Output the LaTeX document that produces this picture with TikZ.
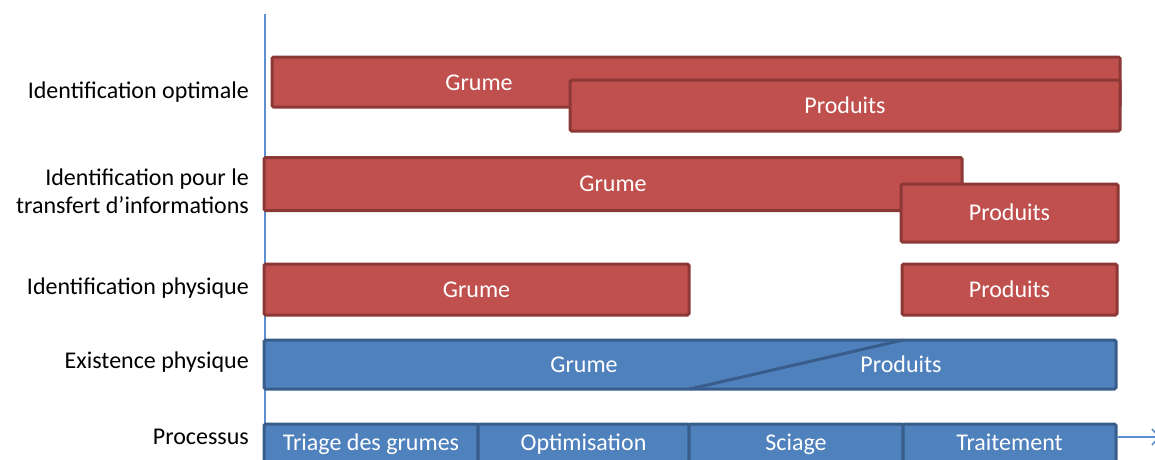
\documentclass[tikz,border=0pt]{standalone}
\usepackage{fontspec}
\setmainfont{Carlito}
\usepackage{xcolor}
\usepackage{tikz}
\usetikzlibrary{arrows.meta,positioning}
\definecolor{woodred}{HTML}{C0504D}
\definecolor{woodreddark}{HTML}{8C3836}
\definecolor{procblue}{HTML}{4F81BD}
\definecolor{procbluedark}{HTML}{385D8A}
\definecolor{axisblue}{HTML}{5B8FD0}

\begin{document}
\begin{tikzpicture}[x=1pt, y=-1pt,
  redbar/.style={draw=woodreddark, fill=woodred, line width=3pt, rounded corners=1.5pt,
                 inner sep=0pt, text=white, text height=15pt, text depth=0pt,
                 font=\fontsize{24}{28}\selectfont},
  bluebar/.style={redbar, draw=procbluedark, fill=procblue},
  bartxt/.style={text=white, inner sep=0pt, text height=15pt, text depth=0pt,
                 font=\fontsize{24}{28}\selectfont},
  rowlbl/.style={anchor=east, align=right, inner sep=0pt, font=\fontsize{24}{28}\selectfont},
  arr/.style={-{Straight Barb[length=7pt, width=16pt]}, line width=1.6pt, color=axisblue}
]
\useasboundingbox (0,0) rectangle (1155,459);
\clip (0,0) rectangle (1155,459);

% time axis
\coordinate (axtop) at (265,14);
\coordinate (axbot) at (265,470);
\draw[line width=2pt, color=axisblue] (axtop) -- (axbot);

% identification optimale
\node[rowlbl, text height=15pt, text depth=0pt] (lbl-opt) at (249,91) {Identification optimale};
\node[redbar, minimum width=848pt, minimum height=50pt] (opt-grume) at (696,82) {};
\node[bartxt] (opt-grume-txt) at (479,83) {Grume};
\node[redbar, minimum width=550pt, minimum height=51pt] (opt-prod) at (845,105.5) {Produits};

% identification pour le transfert
\node[rowlbl] (lbl-transf) at (249,191) {Identification pour le\\transfert d'informations};
\node[redbar, minimum width=698pt, minimum height=53pt] (transf-grume) at (613,184) {Grume};
\node[redbar, minimum width=217pt, minimum height=58pt] (transf-prod) at (1009.5,213) {Produits};

% identification physique
\node[rowlbl, text height=15pt, text depth=0pt] (lbl-phys) at (249,287) {Identification physique};
\node[redbar, minimum width=425pt, minimum height=51pt] (phys-grume) at (476.5,289.5) {Grume};
\node[redbar, minimum width=215pt, minimum height=51pt] (phys-prod) at (1009.5,289.5) {Produits};

% existence physique
\node[rowlbl, text height=15pt, text depth=0pt] (lbl-exist) at (249,361) {Existence physique};
\node[bluebar, minimum width=852pt, minimum height=49pt] (exist) at (690,364.5) {};
\coordinate (cut-lo) at (690,389);
\coordinate (cut-hi) at (903,340);
\draw[line width=3pt, color=procbluedark] (cut-lo) -- (cut-hi);
\node[bartxt] (exist-grume) at (584,365) {Grume};
\node[bartxt] (exist-prod) at (901,365) {Produits};

% processus
\node[rowlbl, text height=15pt, text depth=0pt] (lbl-proc) at (249,437) {Processus};
\node[bluebar, minimum width=214pt, minimum height=38pt] (triage) at (371,443) {Triage des grumes};
\node[bluebar, minimum width=211pt, minimum height=38pt] (optim) at (583.5,443) {Optimisation};
\node[bluebar, minimum width=214pt, minimum height=38pt] (sciage) at (796,443) {Sciage};
\node[bluebar, minimum width=213pt, minimum height=38pt] (traite) at (1009.5,443) {Traitement};
\coordinate (axend) at (1160,437);
\draw[arr] (traite.east |- axend) -- (axend);
\end{tikzpicture}
\end{document}
